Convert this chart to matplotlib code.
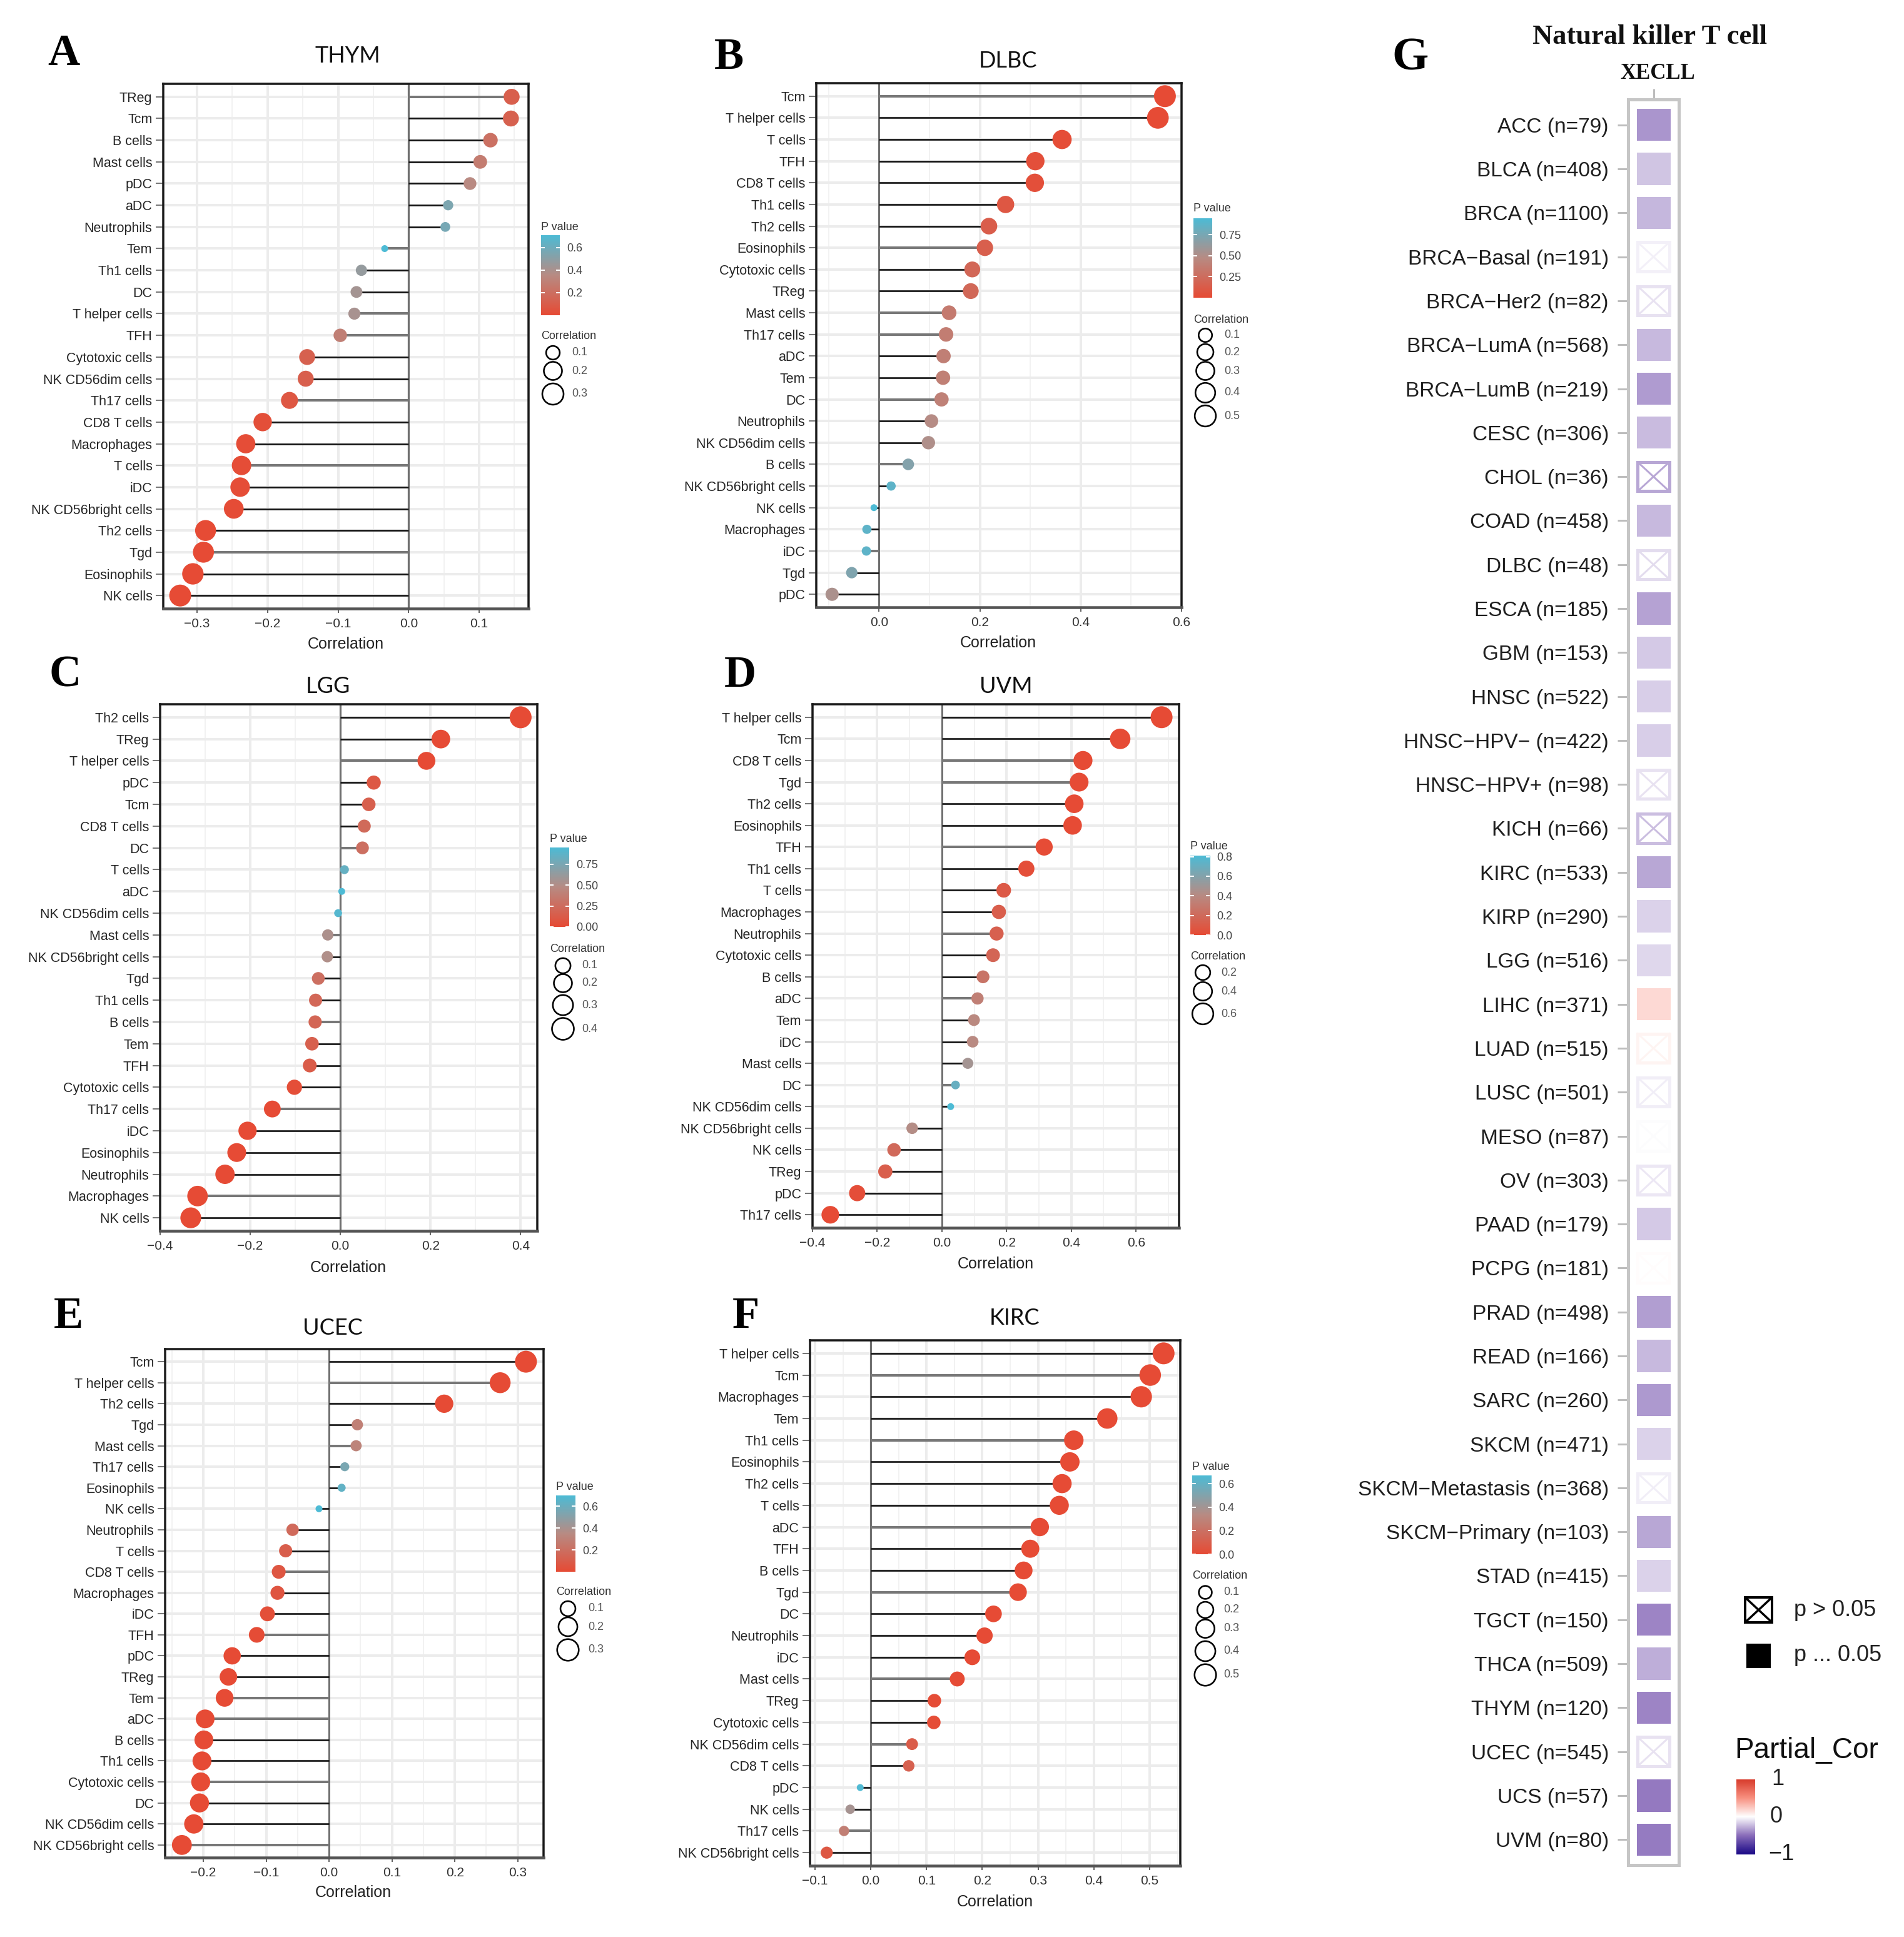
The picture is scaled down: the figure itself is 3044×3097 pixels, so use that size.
from __future__ import annotations

import matplotlib

matplotlib.use("Agg")
import matplotlib.pyplot as plt
import numpy as np
from matplotlib.colors import LinearSegmentedColormap

W, H = 3044, 3097
SANS = ["Liberation Sans", "DejaVu Sans"]
SERIF = ["Liberation Serif", "DejaVu Serif"]
TITLE_FONT = ["Lato", "DejaVu Sans"]

plt.rcParams["font.family"] = SANS


# ---------------------------------------------------------------------------
# Lollipop data
# ---------------------------------------------------------------------------
THYM_CELLS = ["TReg", "Tcm", "B cells", "Mast cells", "pDC", "aDC", "Neutrophils", "Tem",
              "Th1 cells", "DC", "T helper cells", "TFH", "Cytotoxic cells", "NK CD56dim cells",
              "Th17 cells", "CD8 T cells", "Macrophages", "T cells", "iDC", "NK CD56bright cells",
              "Th2 cells", "Tgd", "Eosinophils", "NK cells"]
THYM_COR = [0.146, 0.145, 0.116, 0.1015, 0.087, 0.056, 0.052, -0.034, -0.067, -0.074, -0.077, -0.097,
            -0.144, -0.146, -0.169, -0.207, -0.231, -0.237, -0.239, -0.248, -0.288, -0.291, -0.306, -0.324]
THYM_P = [0.11, 0.12, 0.21, 0.27, 0.35, 0.55, 0.57, 0.71, 0.47, 0.42, 0.41, 0.29,
          0.12, 0.11, 0.065, 0.022, 0.012, 0.01, 0.009, 0.007, 0.002, 0.002, 0.001, 0.001]
THYM_GRAY = ["TReg", "Tem", "T helper cells", "TFH", "Th17 cells", "T cells", "Tgd"]

DLBC_CELLS = ["Tcm", "T helper cells", "T cells", "TFH", "CD8 T cells", "Th1 cells", "Th2 cells",
              "Eosinophils", "Cytotoxic cells", "TReg", "Mast cells", "Th17 cells", "aDC", "Tem", "DC",
              "Neutrophils", "NK CD56dim cells", "B cells", "NK CD56bright cells", "NK cells",
              "Macrophages", "iDC", "Tgd", "pDC"]
DLBC_COR = [0.567, 0.553, 0.363, 0.31, 0.309, 0.251, 0.218, 0.21, 0.185, 0.182, 0.139, 0.133,
            0.128, 0.127, 0.124, 0.104, 0.098, 0.058, 0.024, -0.01, -0.024, -0.025, -0.054, -0.093]
DLBC_P = [0.0, 0.0, 0.012, 0.03, 0.03, 0.085, 0.135, 0.15, 0.21, 0.215, 0.35, 0.37,
          0.385, 0.39, 0.4, 0.48, 0.51, 0.7, 0.87, 0.945, 0.87, 0.87, 0.72, 0.53]
DLBC_GRAY = ["Tcm", "Eosinophils", "Mast cells", "Th17 cells", "DC", "B cells", "iDC"]

LGG_CELLS = ["Th2 cells", "TReg", "T helper cells", "pDC", "Tcm", "CD8 T cells", "DC", "T cells", "aDC",
             "NK CD56dim cells", "Mast cells", "NK CD56bright cells", "Tgd", "Th1 cells", "B cells", "Tem",
             "TFH", "Cytotoxic cells", "Th17 cells", "iDC", "Eosinophils", "Neutrophils", "Macrophages",
             "NK cells"]
LGG_COR = [0.40, 0.223, 0.191, 0.074, 0.063, 0.053, 0.049, 0.009, 0.003, -0.005, -0.028, -0.029,
           -0.049, -0.055, -0.056, -0.063, -0.068, -0.102, -0.151, -0.206, -0.23, -0.256, -0.317, -0.332]
LGG_P = [0.0, 0.0, 0.0, 0.093, 0.154, 0.23, 0.27, 0.84, 0.95, 0.91, 0.53, 0.51,
         0.27, 0.21, 0.2, 0.154, 0.124, 0.02, 0.001, 0.0, 0.0, 0.0, 0.0, 0.0]
LGG_GRAY = ["T helper cells", "DC", "Mast cells", "B cells", "Th17 cells", "Macrophages"]

UVM_CELLS = ["T helper cells", "Tcm", "CD8 T cells", "Tgd", "Th2 cells", "Eosinophils", "TFH", "Th1 cells",
             "T cells", "Macrophages", "Neutrophils", "Cytotoxic cells", "B cells", "aDC", "Tem", "iDC",
             "Mast cells", "DC", "NK CD56dim cells", "NK CD56bright cells", "NK cells", "TReg", "pDC",
             "Th17 cells"]
UVM_COR = [0.679, 0.551, 0.436, 0.424, 0.409, 0.404, 0.316, 0.261, 0.191, 0.176, 0.169, 0.158,
           0.127, 0.11, 0.099, 0.095, 0.08, 0.042, 0.027, -0.092, -0.148, -0.175, -0.262, -0.345]
UVM_P = [0.0, 0.0, 0.0, 0.0, 0.0, 0.0, 0.005, 0.02, 0.09, 0.12, 0.135, 0.165,
         0.26, 0.33, 0.39, 0.4, 0.48, 0.71, 0.81, 0.42, 0.19, 0.12, 0.02, 0.002]
UVM_GRAY = ["CD8 T cells", "Tgd", "TFH", "Neutrophils", "aDC", "DC"]

UCEC_CELLS = ["Tcm", "T helper cells", "Th2 cells", "Tgd", "Mast cells", "Th17 cells", "Eosinophils",
              "NK cells", "Neutrophils", "T cells", "CD8 T cells", "Macrophages", "iDC", "TFH", "pDC",
              "TReg", "Tem", "aDC", "B cells", "Th1 cells", "Cytotoxic cells", "DC", "NK CD56dim cells",
              "NK CD56bright cells"]
UCEC_COR = [0.313, 0.272, 0.183, 0.045, 0.043, 0.025, 0.02, -0.016, -0.058, -0.069, -0.08, -0.082,
            -0.098, -0.115, -0.154, -0.16, -0.166, -0.197, -0.199, -0.202, -0.204, -0.206, -0.215, -0.234]
UCEC_P = [0.0, 0.0, 0.0, 0.29, 0.31, 0.55, 0.63, 0.7, 0.17, 0.105, 0.06, 0.055,
          0.02, 0.007, 0.0, 0.0, 0.0, 0.0, 0.0, 0.0, 0.0, 0.0, 0.0, 0.0]
UCEC_GRAY = ["T helper cells", "Mast cells", "CD8 T cells", "TFH", "Tem", "Cytotoxic cells", "aDC",
             "NK CD56bright cells"]

KIRC_CELLS = ["T helper cells", "Tcm", "Macrophages", "Tem", "Th1 cells", "Eosinophils", "Th2 cells", "T cells",
              "aDC", "TFH", "B cells", "Tgd", "DC", "Neutrophils", "iDC", "Mast cells", "TReg",
              "Cytotoxic cells", "NK CD56dim cells", "CD8 T cells", "pDC", "NK cells", "Th17 cells",
              "NK CD56bright cells"]
KIRC_COR = [0.525, 0.501, 0.485, 0.424, 0.364, 0.357, 0.343, 0.338, 0.303, 0.286, 0.274, 0.264,
            0.22, 0.204, 0.182, 0.155, 0.114, 0.113, 0.074, 0.068, -0.019, -0.037, -0.048, -0.079]
KIRC_P = [0.0, 0.0, 0.0, 0.0, 0.0, 0.0, 0.0, 0.0, 0.0, 0.0, 0.0, 0.0,
          0.0, 0.0, 0.0, 0.001, 0.008, 0.009, 0.088, 0.117, 0.66, 0.39, 0.27, 0.068]
KIRC_GRAY = ["Tcm", "Th1 cells", "aDC", "Tgd", "Mast cells", "NK CD56dim cells", "Th17 cells"]

# ---------------------------------------------------------------------------
# Heatmap data (panel G)
# ---------------------------------------------------------------------------
CANCERS = ["ACC (n=79)", "BLCA (n=408)", "BRCA (n=1100)", "BRCA−Basal (n=191)", "BRCA−Her2 (n=82)",
           "BRCA−LumA (n=568)", "BRCA−LumB (n=219)", "CESC (n=306)", "CHOL (n=36)", "COAD (n=458)",
           "DLBC (n=48)", "ESCA (n=185)", "GBM (n=153)", "HNSC (n=522)", "HNSC−HPV− (n=422)",
           "HNSC−HPV+ (n=98)", "KICH (n=66)", "KIRC (n=533)", "KIRP (n=290)", "LGG (n=516)",
           "LIHC (n=371)", "LUAD (n=515)", "LUSC (n=501)", "MESO (n=87)", "OV (n=303)", "PAAD (n=179)",
           "PCPG (n=181)", "PRAD (n=498)", "READ (n=166)", "SARC (n=260)", "SKCM (n=471)",
           "SKCM−Metastasis (n=368)", "SKCM−Primary (n=103)", "STAD (n=415)", "TGCT (n=150)",
           "THCA (n=509)", "THYM (n=120)", "UCEC (n=545)", "UCS (n=57)", "UVM (n=80)"]
PARTIAL_COR = [-0.36, -0.20, -0.25, -0.05, -0.10, -0.24, -0.34, -0.23, -0.30, -0.24,
               -0.12, -0.32, -0.18, -0.17, -0.17, -0.10, -0.22, -0.30, -0.15, -0.14,
               0.17, 0.05, -0.06, -0.01, -0.08, -0.18, 0.01, -0.33, -0.24, -0.35,
               -0.15, -0.06, -0.30, -0.15, -0.42, -0.28, -0.42, -0.10, -0.46, -0.45]
NOT_SIGNIFICANT = ["BRCA−Basal (n=191)", "BRCA−Her2 (n=82)", "CHOL (n=36)", "DLBC (n=48)", "HNSC−HPV+ (n=98)",
                   "KICH (n=66)", "LUAD (n=515)", "LUSC (n=501)", "MESO (n=87)", "OV (n=303)", "PCPG (n=181)",
                   "SKCM−Metastasis (n=368)", "UCEC (n=545)"]

# ---------------------------------------------------------------------------
# Layout of the panels, in pixels of the final image
# ---------------------------------------------------------------------------
PANELS = [
    dict(cells=THYM_CELLS, cor=THYM_COR, p=THYM_P, gray=THYM_GRAY, title="THYM", letter="A",
         box=(261, 134, 845, 973), xlim=(-0.348, 0.170), xticks=[-0.3, -0.2, -0.1, 0.0, 0.1],
         title_xy=(556, 89), letter_xy=(76, 104), xlabel_xy=(553, 1030),
         pmax=0.71, pticks=[0.2, 0.4, 0.6], bar=(865, 376, 895, 504), p_title_y=363,
         cor_title_y=538, sizes=[0.1, 0.2, 0.3], size_ys=[564, 593, 630], size_x=884, size_label_x=914),
    dict(cells=DLBC_CELLS, cor=DLBC_COR, p=DLBC_P, gray=DLBC_GRAY, title="DLBC", letter="B",
         box=(1305, 133, 1889, 971), xlim=(-0.1244, 0.6), xticks=[0.0, 0.2, 0.4, 0.6],
         title_xy=(1611, 97), letter_xy=(1142, 110), xlabel_xy=(1596, 1028),
         pmax=0.945, pticks=[0.25, 0.50, 0.75], pfmt="{:.2f}", bar=(1908, 349, 1938, 476), p_title_y=334,
         cor_title_y=511, sizes=[0.1, 0.2, 0.3, 0.4, 0.5], size_ys=[536, 563, 593, 628, 665],
         size_x=1927, size_label_x=1957),
    dict(cells=LGG_CELLS, cor=LGG_COR, p=LGG_P, gray=LGG_GRAY, title="LGG", letter="C",
         box=(256, 1126, 859, 1968), xlim=(-0.4, 0.437), xticks=[-0.4, -0.2, 0.0, 0.2, 0.4],
         title_xy=(524, 1098), letter_xy=(78, 1098), xlabel_xy=(557, 2027),
         pmax=0.95, pticks=[0.0, 0.25, 0.50, 0.75], pfmt="{:.2f}", bar=(879, 1355, 910, 1482), p_title_y=1342,
         cor_title_y=1517, sizes=[0.1, 0.2, 0.3, 0.4], size_ys=[1544, 1572, 1607, 1645],
         size_x=900, size_label_x=930),
    dict(cells=UVM_CELLS, cor=UVM_COR, p=UVM_P, gray=UVM_GRAY, title="UVM", letter="D",
         box=(1299, 1126, 1885, 1963), xlim=(-0.4, 0.733), xticks=[-0.4, -0.2, 0.0, 0.2, 0.4, 0.6],
         title_xy=(1608, 1098), letter_xy=(1158, 1098), xlabel_xy=(1592, 2021),
         pmax=0.81, pticks=[0.0, 0.2, 0.4, 0.6, 0.8], bar=(1903, 1368, 1934, 1495), p_title_y=1354,
         cor_title_y=1529, sizes=[0.2, 0.4, 0.6], size_ys=[1555, 1585, 1621], size_x=1923, size_label_x=1952),
    dict(cells=UCEC_CELLS, cor=UCEC_COR, p=UCEC_P, gray=UCEC_GRAY, title="UCEC", letter="E",
         box=(264, 2157, 869, 2970), xlim=(-0.2606, 0.341), xticks=[-0.2, -0.1, 0.0, 0.1, 0.2, 0.3],
         title_xy=(532, 2123), letter_xy=(86, 2123), xlabel_xy=(565, 3026),
         pmax=0.70, pticks=[0.2, 0.4, 0.6], bar=(889, 2391, 920, 2513), p_title_y=2377,
         cor_title_y=2546, sizes=[0.1, 0.2, 0.3], size_ys=[2572, 2601, 2638], size_x=908, size_label_x=940),
    dict(cells=KIRC_CELLS, cor=KIRC_COR, p=KIRC_P, gray=KIRC_GRAY, title="KIRC", letter="F",
         box=(1295, 2143, 1887, 2983), xlim=(-0.109, 0.555), xticks=[-0.1, 0.0, 0.1, 0.2, 0.3, 0.4, 0.5],
         title_xy=(1622, 2108), letter_xy=(1171, 2123), xlabel_xy=(1591, 3041),
         pmax=0.67, pticks=[0.0, 0.2, 0.4, 0.6], bar=(1906, 2359, 1937, 2485), p_title_y=2345,
         cor_title_y=2520, sizes=[0.1, 0.2, 0.3, 0.4, 0.5], size_ys=[2546, 2574, 2604, 2640, 2678],
         size_x=1927, size_label_x=1956),
]

P_CMAP = LinearSegmentedColormap.from_list("pvalue", ["#E64B35", "#B88B83", "#4DBBD5"])
COR_CMAP = LinearSegmentedColormap.from_list(
    "partial", [(0.0, "#1b0a87"), (0.25, "#8a6dba"), (0.5, "#ffffff"), (0.75, "#f88f7f"), (1.0, "#d73a2a")]
)


def px(v):
    """Pixels of the output image to points."""
    return v * 0.72


def add_box(fig, box):
    left, top, right, bottom = box
    return fig.add_axes([left / W, 1 - bottom / H, (right - left) / W, (bottom - top) / H])


def dot_diameter(values, cor, low=11.0, high=35.0):
    # area scale, same as the size legend
    lo, hi = np.sqrt(np.abs(cor)).min(), np.sqrt(np.abs(cor)).max()
    t = np.clip((np.sqrt(np.abs(values)) - lo) / (hi - lo), 0, None)
    return low + (high - low) * t**0.75


def minus(text):
    return text.replace("-", "−")


def draw_lollipop(fig, over, spec):
    ax = add_box(fig, spec["box"])
    cor = np.array(spec["cor"])
    n = len(cor)
    y = n - 1 - np.arange(n)

    ax.set_xlim(*spec["xlim"])
    ax.set_ylim(-0.6, n - 0.4)
    ax.set_axisbelow(True)

    ticks = np.array(spec["xticks"])
    step = ticks[1] - ticks[0]
    minor = np.arange(ticks[0] - step / 2, spec["xlim"][1], step)
    ax.set_xticks(ticks)
    ax.set_xticklabels([minus(f"{t:.1f}") for t in ticks], fontsize=15, color="#333333")
    ax.set_xticks(minor[minor > spec["xlim"][0]], minor=True)
    ax.set_yticks(y)
    ax.set_yticklabels(spec["cells"], fontsize=15.5, color="#262626")
    ax.grid(True, which="major", color="#ececec", lw=px(4))
    ax.grid(True, which="minor", axis="x", color="#f2f2f2", lw=px(2))
    ax.tick_params(axis="x", which="major", length=px(7), width=px(2), color="#666666", pad=6)
    ax.tick_params(axis="x", which="minor", length=0)
    ax.tick_params(axis="y", length=px(12), width=px(2), color="#777777", pad=4)

    ax.axvline(0, color="#707070", lw=px(3), zorder=2)
    for i, cell in enumerate(spec["cells"]):
        is_gray = cell in spec["gray"]
        ax.plot([0, cor[i]], [y[i], y[i]], color="#777777" if is_gray else "#111111",
                lw=px(4) if is_gray else px(2.6), zorder=2.5, solid_capstyle="butt")

    diam = dot_diameter(cor, cor)
    colors = P_CMAP(np.array(spec["p"]) / spec["pmax"])
    ax.scatter(cor, y, s=px(diam) ** 2, c=colors, linewidths=0, zorder=3, clip_on=False)

    for side in ax.spines.values():
        side.set_linewidth(px(3.5))
        side.set_color("#1a1a1a")
    ax.spines["bottom"].set_color("#555555")
    ax.spines["bottom"].set_linewidth(px(4.5))

    # titles and panel letter
    over.text(*spec["title_xy"], spec["title"], family=TITLE_FONT, fontsize=26, color="#111111",
              ha="center", va="center")
    over.text(*spec["letter_xy"], spec["letter"], family=SERIF, weight="bold", fontsize=51,
              color="black", ha="left", va="baseline")
    over.text(*spec["xlabel_xy"], "Correlation", fontsize=18, color="#222222", ha="center", va="center")

    # p value colour bar
    bar_left, bar_top, _, _ = spec["bar"]
    over.text(bar_left, spec["p_title_y"], "P value", fontsize=13, color="#333333", ha="left", va="center")
    bar = add_box(fig, spec["bar"])
    bar.imshow(np.linspace(1, 0, 200)[:, None], cmap=P_CMAP, aspect="auto",
               extent=(0, 1, 0, spec["pmax"]), vmin=0, vmax=1)
    fmt = spec.get("pfmt", "{:.1f}")
    bar.set_xticks([])
    bar.set_yticks(spec["pticks"])
    bar.set_yticklabels([fmt.format(t) for t in spec["pticks"]], fontsize=13, color="#444444")
    bar.tick_params(axis="y", direction="in", color="white", length=px(6), width=px(2),
                    left=True, right=True, labelleft=False, labelright=True, pad=8)
    for side in bar.spines.values():
        side.set_visible(False)

    # size legend
    over.text(bar_left, spec["cor_title_y"], "Correlation", fontsize=13, color="#333333", ha="left", va="center")
    sizes = np.array(spec["sizes"])
    over.scatter(np.full(len(sizes), spec["size_x"]), spec["size_ys"], s=px(dot_diameter(sizes, cor)) ** 2,
                 facecolors="white", edgecolors="black", linewidths=px(2.6))
    for value, ypos in zip(sizes, spec["size_ys"]):
        over.text(spec["size_label_x"], ypos, f"{value:.1f}", fontsize=13, color="#555555", ha="left", va="center")


def draw_heatmap(fig, over):
    ax = add_box(fig, (2603, 159, 2684, 2982))
    n = len(CANCERS)
    y = n - 1 - np.arange(n)
    ax.set_xlim(-0.75, 0.75)
    ax.set_ylim(-0.58, n - 1 + 0.58)

    for i, name in enumerate(CANCERS):
        color = COR_CMAP((PARTIAL_COR[i] + 1) / 2)
        if name in NOT_SIGNIFICANT:
            ax.barh(y[i], 0.93, left=-0.465, height=0.66, facecolor="white", edgecolor=color, linewidth=px(5))
            ax.plot([-0.465, 0.465], [y[i] - 0.33, y[i] + 0.33], color=color, lw=px(3))
            ax.plot([-0.465, 0.465], [y[i] + 0.33, y[i] - 0.33], color=color, lw=px(3))
        else:
            ax.barh(y[i], 1, left=-0.5, height=0.73, color=color, linewidth=0)

    ax.set_yticks(y)
    ax.set_yticklabels(CANCERS, fontsize=24, color="#1f1f1f")
    ax.set_xticks([0])
    ax.set_xticklabels([""])
    ax.xaxis.tick_top()
    ax.tick_params(axis="both", length=px(17), width=px(3), color="#bdbdbd")
    ax.tick_params(axis="y", pad=px(14))
    for side in ax.spines.values():
        side.set_color("#c6c6c6")
        side.set_linewidth(px(5))

    over.text(2638, 59, "Natural killer T cell", family=SERIF, weight="bold", fontsize=32,
              color="#111111", ha="center", va="center")
    over.text(2650, 118, "XECLL", family=SERIF, weight="bold", fontsize=25, color="#111111",
              ha="center", va="center")
    over.text(2225, 112, "G", family=SERIF, weight="bold", fontsize=54, color="black", ha="left", va="baseline")

    # significance key
    key = add_box(fig, (2790, 2554, 2833, 2594))
    key.plot([0, 1], [0, 1], color="black", lw=px(3.5))
    key.plot([0, 1], [1, 0], color="black", lw=px(3.5))
    key.set_xlim(0, 1)
    key.set_ylim(0, 1)
    key.set_xticks([])
    key.set_yticks([])
    for side in key.spines.values():
        side.set_linewidth(px(4))
    solid = add_box(fig, (2792, 2628, 2830, 2666))
    solid.set_facecolor("black")
    solid.set_xticks([])
    solid.set_yticks([])
    over.text(2868, 2575, "p > 0.05", fontsize=26, color="#222222", ha="left", va="center")
    over.text(2868, 2647, "p ... 0.05", fontsize=26, color="#222222", ha="left", va="center")

    # colour key
    over.text(2773, 2799, "Partial_Cor", fontsize=33, color="#111111", ha="left", va="center")
    cbar = add_box(fig, (2776, 2845, 2806, 2965))
    cbar.imshow(np.linspace(1, 0, 200)[:, None], cmap=COR_CMAP, aspect="auto", vmin=0, vmax=1)
    cbar.axis("off")
    over.text(2832, 2845, "1", fontsize=26, color="#222222", ha="left", va="center")
    over.text(2830, 2904, "0", fontsize=26, color="#222222", ha="left", va="center")
    over.text(2827, 2965, "−1", fontsize=26, color="#222222", ha="left", va="center")


fig = plt.figure(figsize=(W / 100, H / 100), dpi=100, facecolor="white")
over = fig.add_axes([0, 0, 1, 1], zorder=10)
over.set_xlim(0, W)
over.set_ylim(H, 0)
over.axis("off")
over.patch.set_alpha(0)

for panel in PANELS:
    draw_lollipop(fig, over, panel)
draw_heatmap(fig, over)

fig.savefig("out.png", dpi=100, facecolor="white")
